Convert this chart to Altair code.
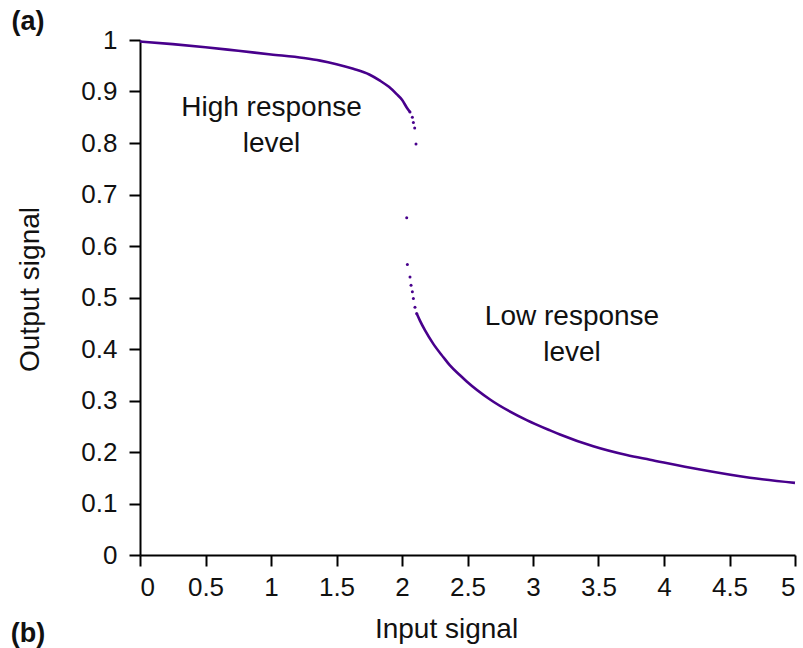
import altair as alt
import pandas as pd

# Upper (high response) branch, dense part
upper_x = [0.0, 0.25, 0.5, 0.75, 1.0, 1.25, 1.375, 1.5, 1.628, 1.75, 1.832, 1.9, 1.959, 2.0, 2.036, 2.061]
upper_y = [0.997, 0.992, 0.986, 0.979, 0.972, 0.965, 0.960, 0.953, 0.944, 0.933, 0.921, 0.909, 0.895, 0.884, 0.869, 0.860]

# Sparse dots near the jump
sparse_x = [2.061, 2.079, 2.087, 2.097, 2.107, 2.036, 2.041, 2.061, 2.069, 2.079, 2.087, 2.099, 2.112]
sparse_y = [0.860, 0.850, 0.840, 0.829, 0.798, 0.655, 0.564, 0.540, 0.524, 0.511, 0.498, 0.481, 0.469]

# Lower (low response) branch, dense part
lower_x = [2.112, 2.137, 2.176, 2.239, 2.316, 2.366, 2.443, 2.494, 2.672, 2.952, 3.13, 3.206, 3.46, 3.715, 3.893, 4.275, 4.656, 5.0]
lower_y = [0.469, 0.455, 0.436, 0.410, 0.384, 0.368, 0.349, 0.337, 0.302, 0.262, 0.242, 0.234, 0.211, 0.194, 0.185, 0.166, 0.150, 0.140]

# Annotations
note_text = ["High response\nlevel", "Low response\nlevel"]
note_x = [1.004, 3.298]
note_y = [0.8687, 0.4615]

FONT = "Liberation Sans"
COLOR = "#48008C"

df_up = pd.DataFrame({"x": upper_x, "y": upper_y, "branch": "high"})
df_lo = pd.DataFrame({"x": lower_x, "y": lower_y, "branch": "low"})
df_lines = pd.concat([df_up, df_lo], ignore_index=True)
df_dots = pd.DataFrame({"x": sparse_x, "y": sparse_y})
df_notes = pd.DataFrame({"x": note_x, "y": note_y, "t": note_text})

xscale = alt.Scale(domain=[0, 5], nice=False, zero=False)
yscale = alt.Scale(domain=[0, 1], nice=False)

xaxis = alt.Axis(
    values=[0, 0.5, 1, 1.5, 2, 2.5, 3, 3.5, 4, 4.5, 5], format="~g", title="Input signal",
    grid=False, tickSize=11, labelPadding=8, titleX=306, titleY=74, titleAlign="center",
    titleBaseline="middle",
)
yaxis = alt.Axis(
    values=[0, 0.1, 0.2, 0.3, 0.4, 0.5, 0.6, 0.7, 0.8, 0.9, 1], format="~g", title="Output signal",
    grid=False, tickSize=11, labelPadding=12, titleX=-110, titleY=249, titleAlign="center",
    titleBaseline="middle", titleAngle=270,
)

lines = alt.Chart(df_lines).mark_line(color=COLOR, strokeWidth=2.6, interpolate="monotone").encode(
    x=alt.X("x:Q", scale=xscale, axis=xaxis),
    y=alt.Y("y:Q", scale=yscale, axis=yaxis),
    detail="branch:N",
)

dots = alt.Chart(df_dots).mark_circle(color=COLOR, size=9, opacity=1).encode(
    x=alt.X("x:Q", scale=xscale),
    y=alt.Y("y:Q", scale=yscale),
)

notes = alt.Chart(df_notes).mark_text(
    font=FONT, fontSize=28, lineBreak="\n", lineHeight=36, color="#111111", align="center", baseline="middle"
).encode(
    x=alt.X("x:Q", scale=xscale),
    y=alt.Y("y:Q", scale=yscale),
    text="t:N",
)

panel_labels = pd.DataFrame({"t": ["(a)", "(b)"]})
lab_a = alt.Chart(panel_labels.iloc[[0]]).mark_text(
    font=FONT, fontSize=27, fontWeight="bold", align="center", baseline="middle", color="#111111"
).encode(x=alt.value(-112), y=alt.value(-18), text="t:N")
lab_b = alt.Chart(panel_labels.iloc[[1]]).mark_text(
    font=FONT, fontSize=27, fontWeight="bold", align="center", baseline="middle", color="#111111"
).encode(x=alt.value(-112), y=alt.value(594), text="t:N")

chart = alt.layer(lines, dots, notes, lab_a, lab_b).properties(
    width=655, height=515,
    background="white",
    autosize=alt.AutoSizeParams(type="none"),
    padding={"left": 140, "top": 40, "right": 8, "bottom": 93},
).configure_view(stroke=None).configure_axis(
    labelFont=FONT, titleFont=FONT, labelFontSize=26, titleFontSize=28,
    labelColor="#111111", titleColor="#111111", titleFontWeight="normal",
    domainColor="#000000", tickColor="#000000", domainWidth=2, tickWidth=2,
)

chart.save("out.html", embed_options={"renderer": "svg", "actions": False})
